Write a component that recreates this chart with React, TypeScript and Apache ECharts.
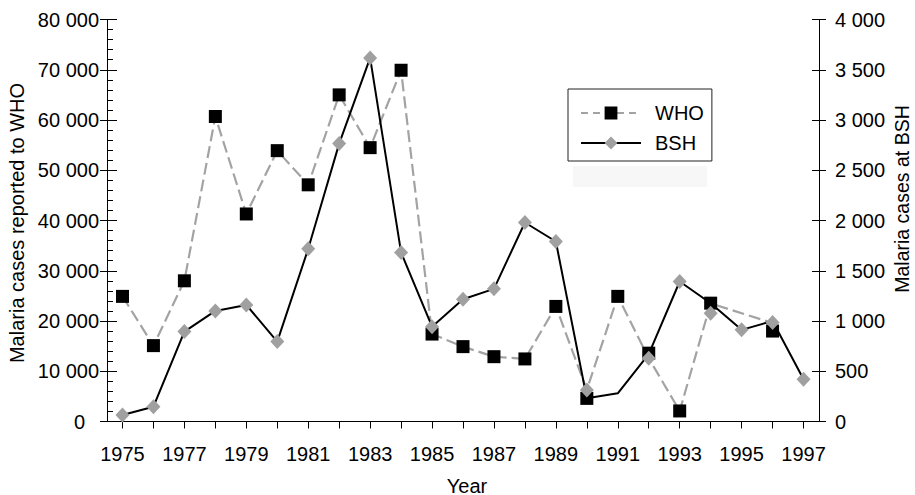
import React, { useEffect, useRef } from 'react';
import * as echarts from 'echarts';

// Years on the category axis
const years = [
  '1975', '1976', '1977', '1978', '1979', '1980', '1981', '1982', '1983', '1984', '1985', '1986',
  '1987', '1988', '1989', '1990', '1991', '1992', '1993', '1994', '1995', '1996', '1997',
];

// Gray dashed line: malaria cases reported to WHO (left axis)
const whoCases: (number | null)[] = [
  24900, 15100, 28000, 60700, 41300, 53900, 47100, 65000, 54500, 69900, 17400, 14900,
  12900, 12450, 22900, 6300, 24900, 12600, 2100, 23500, null, 19600, null,
];

// Black solid line: malaria cases at BSH (right axis)
const bshCases: (number | null)[] = [
  65, 147, 895, 1100, 1160, 795, 1718, 2765, 3618, 1682, 944, 1217,
  1320, 1980, 1791, 231, 281, 670, 1393, 1177, 912, 1000, 420,
];

// Black square markers (left-axis units)
const squareMarkers: (number | null)[] = [
  24900, 15100, 28000, 60700, 41300, 53900, 47100, 65000, 54500, 69900, 17400, 14900,
  12900, 12450, 22900, 4600, 24900, 13600, 2100, 23550, null, 18000, null,
];

// Gray diamond markers (right-axis units)
const diamondMarkers: (number | null)[] = [
  65, 147, 895, 1100, 1160, 795, 1718, 2765, 3618, 1682, 944, 1217,
  1320, 1980, 1791, 314, null, 630, 1393, 1078, 912, 984, 420,
];

const FONT = '"Liberation Sans", Arial, Helvetica, sans-serif';
const GRAY = '#a3a3a3';
const DIAMOND_GRAY = '#a0a0a0';
const INK = '#000';

function spaced(v: number): string {
  return String(v).replace(/\B(?=(\d{3})+(?!\d))/g, ' ');
}

function pairs(arr: (number | null)[]) {
  const out: [string, number][] = [];
  arr.forEach((v, i) => {
    if (v != null) out.push([years[i], v]);
  });
  return out;
}

export default function App() {
  const ref = useRef<HTMLDivElement>(null);

  useEffect(() => {
    if (!ref.current) return;
    const chart = echarts.init(ref.current, null, { renderer: 'svg' });
    const txt = { fontFamily: FONT, fontSize: 20, color: INK };

    chart.setOption({
      animation: false,
      backgroundColor: '#fff',
      textStyle: { fontFamily: FONT },
      grid: {
        left: 107,
        right: 96,
        top: 19.5,
        bottom: 73.5,
        containLabel: false,
        outerBoundsMode: 'none',
      },
      graphic: [
        {
          type: 'rect',
          left: 573,
          top: 166,
          shape: { width: 134, height: 21 },
          style: { fill: '#f7f7f7' },
          silent: true,
          z: -1,
        },
      ],
      legend: {
        orient: 'vertical',
        left: 568,
        top: 89,
        padding: [14, 8, 8, 12],
        itemWidth: 60,
        itemHeight: 16,
        itemGap: 10,
        borderColor: '#222',
        borderWidth: 1,
        backgroundColor: '#fff',
        selectedMode: false,
        textStyle: { ...txt, lineHeight: 20, padding: [0, 0, 0, 9] },
        data: [
          {
            name: 'WHO',
            itemStyle: { color: INK, borderWidth: 0 },
            lineStyle: { color: GRAY, width: 2, type: [7, 5] },
          },
          {
            name: 'BSH',
            itemStyle: { color: DIAMOND_GRAY, borderWidth: 0 },
            lineStyle: { color: INK, width: 2, type: 'solid' },
          },
        ],
      },
      xAxis: {
        type: 'category',
        data: years,
        boundaryGap: true,
        axisLine: { show: true, onZero: false, lineStyle: { color: INK, width: 1 } },
        axisTick: { show: true, alignWithLabel: true, interval: 0, length: 7, lineStyle: { color: INK } },
        axisLabel: { interval: 1, margin: 22, ...txt },
        splitLine: { show: false },
        name: 'Year',
        nameLocation: 'middle',
        nameGap: 57,
        nameMoveOverlap: false,
        nameTextStyle: { ...txt, lineHeight: 14, padding: [0, 0, 0, 8] },
      },
      yAxis: [
        {
          type: 'value',
          position: 'left',
          min: 0,
          max: 80000,
          interval: 10000,
          axisLine: { show: true, lineStyle: { color: INK, width: 1 } },
          axisTick: { show: true, inside: true, length: 10, lineStyle: { color: INK } },
          minorTick: { show: true, splitNumber: 5, length: 6, lineStyle: { color: INK } },
          splitLine: { show: false },
          axisLabel: {
            margin: 8,
            ...txt,
            formatter: (v: number) => (v === 0 ? '{z|0}' : spaced(v)),
            rich: { z: { ...txt, padding: [0, 14, 0, 0] } },
          },
          name: 'Malaria cases reported to WHO',
          nameLocation: 'middle',
          nameGap: 80,
          nameMoveOverlap: false,
          nameTextStyle: { ...txt, padding: [0, 5, 0, 0] },
        },
        {
          type: 'value',
          position: 'right',
          min: 0,
          max: 4000,
          interval: 500,
          axisLine: { show: true, lineStyle: { color: INK, width: 1 } },
          axisTick: { show: true, inside: false, length: 7, lineStyle: { color: INK } },
          splitLine: { show: false },
          axisLabel: { margin: 16, ...txt, formatter: (v: number) => spaced(v) },
          name: 'Malaria cases at BSH',
          nameLocation: 'middle',
          nameGap: 74,
          nameMoveOverlap: false,
          nameTextStyle: { ...txt, fontSize: 19.5, lineHeight: 18, padding: [0, 0, 0, 43] },
        },
        {
          type: 'value',
          position: 'left',
          offset: 0,
          min: 0,
          max: 80000,
          interval: 10000,
          axisLine: { show: false },
          axisTick: { show: true, inside: false, length: 7, lineStyle: { color: INK } },
          axisLabel: { show: false },
          splitLine: { show: false },
        },
        {
          type: 'value',
          position: 'right',
          offset: 0,
          min: 0,
          max: 4000,
          interval: 500,
          axisLine: { show: false },
          axisTick: { show: true, inside: true, length: 7, lineStyle: { color: INK } },
          axisLabel: { show: false },
          splitLine: { show: false },
        },
      ],
      series: [
        {
          name: 'WHO',
          type: 'line',
          yAxisIndex: 0,
          data: whoCases,
          connectNulls: true,
          showSymbol: false,
          symbol: 'rect',
          symbolSize: 13,
          itemStyle: { color: INK },
          lineStyle: { color: GRAY, width: 2.2, type: [12, 5] },
          z: 2,
        },
        {
          name: 'BSH',
          type: 'line',
          yAxisIndex: 1,
          data: bshCases,
          connectNulls: true,
          showSymbol: false,
          symbol: 'diamond',
          symbolSize: 14,
          itemStyle: { color: DIAMOND_GRAY },
          lineStyle: { color: INK, width: 2 },
          z: 3,
        },
        {
          name: 'WHO markers',
          type: 'scatter',
          yAxisIndex: 0,
          data: pairs(squareMarkers),
          symbol: 'rect',
          symbolSize: 13,
          itemStyle: { color: INK, opacity: 1 },
          z: 4,
        },
        {
          name: 'BSH markers',
          type: 'scatter',
          yAxisIndex: 1,
          data: pairs(diamondMarkers),
          symbol: 'diamond',
          symbolSize: [14, 15],
          itemStyle: { color: DIAMOND_GRAY, opacity: 1 },
          z: 5,
        },
      ],
    });

    return () => chart.dispose();
  }, []);

  return (
    <div
      ref={ref}
      style={{ position: 'fixed', left: 0, top: 0, width: 915, height: 495, background: '#fff' }}
    />
  );
}
